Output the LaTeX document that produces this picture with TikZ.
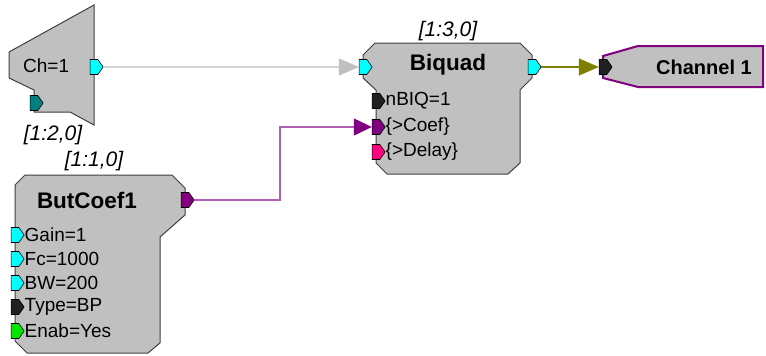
\documentclass[tikz,border=0pt]{standalone}
\usepackage{fontspec}
\setmainfont{Liberation Sans}
\usepackage{tikz}
\usetikzlibrary{positioning, shapes.symbols, arrows.meta}

\definecolor{blockgray}{RGB}{192,192,192}
\definecolor{edgegray}{RGB}{64,64,64}
\definecolor{portcyan}{RGB}{0,255,255}
\definecolor{portteal}{RGB}{0,128,128}
\definecolor{portpurple}{RGB}{128,0,128}
\definecolor{portpink}{RGB}{255,0,128}
\definecolor{portblack}{RGB}{32,32,32}
\definecolor{portgreen}{RGB}{0,230,0}
\definecolor{wireolive}{RGB}{128,128,0}
\definecolor{wiregray}{RGB}{212,212,212}
\definecolor{wirepurple}{RGB}{176,96,176}

\begin{document}
\begin{tikzpicture}[x=1pt, y=-1pt,
  block/.style={fill=blockgray, draw=edgegray, line width=1pt},
  port/.style={signal, signal to=east, signal pointer angle=110, draw=black, line width=0.6pt,
    minimum width=13pt, minimum height=15pt, inner sep=0pt},
  ptext/.style={inner sep=0pt, anchor=west, font=\fontsize{19}{19}\selectfont},
  title/.style={inner sep=0pt, font=\fontsize{22.5}{22.5}\selectfont\bfseries},
  tag/.style={inner sep=0pt, font=\fontsize{21}{21}\selectfont\itshape},
]
\useasboundingbox (0,0) rectangle (766,356);

% blocks
\draw[block] (94,5) -- (94,125) -- (70,112) -- (34,112) -- (34,90) -- (9,78) -- (9,52) -- cycle;
\draw[block] (375,43) -- (520,43) -- (532,55) -- (532,78) -- (520,90) -- (520,163) -- (508,174)
  -- (387,174) -- (376,163) -- (376,90) -- (363,78) -- (363,55) -- cycle;
\draw[block] (25,175) -- (172,175) -- (185,188) -- (185,215) -- (160,237) -- (160,343) -- (148,353)
  -- (27,353) -- (15,341) -- (15,185) -- cycle;
\draw[fill=blockgray, draw=portpurple, line width=2pt] (603,56) -- (638,46) -- (763,46) -- (763,87)
  -- (638,87) -- (603,78) -- cycle;

% titles and tags
\node[ptext] (chtext) at (23,66) {Ch=1};
\node[title] (bqtitle) at (448,65) {Biquad};
\node[title] (bctitle) at (87,200) {ButCoef1};
\node[inner sep=0pt, font=\fontsize{20}{20}\selectfont\bfseries] (outtitle) at (704,67) {Channel 1};
\node[tag] (chtag) at (53,135) {[1:2,0]};
\node[tag] (bctag) at (94,161) {[1:1,0]};
\node[tag] (bqtag) at (448,31) {[1:3,0]};

% ports
\node[port, fill=portcyan] (chout) at (94,67) {};
\node[port, fill=portteal] (chaux) at (34,103) {};
\node[port, fill=portcyan] (bqin) at (363,67) {};
\node[port, fill=portcyan] (bqout) at (532,67) {};
\node[port, fill=portblack] (bqn) at (376,101) {};
\node[port, fill=portpurple] (bqcoef) at (376,127) {};
\node[port, fill=portpink] (bqdelay) at (376,152) {};
\node[port, fill=portblack] (outin) at (603,67) {};
\node[port, fill=portpurple] (bcout) at (185,200) {};
\node[port, fill=portcyan] (bcgain) at (15,235) {};
\node[port, fill=portcyan] (bcfc) at (15,259) {};
\node[port, fill=portcyan] (bcbw) at (15,283) {};
\node[port, fill=portblack] (bctype) at (15,307) {};
\node[port, fill=portgreen] (bcenab) at (15,331) {};

\node[ptext, right=0pt of bqn] (bqntext) {nBIQ=1};
\node[ptext, right=0pt of bqcoef] (bqcoeftext) {\{>Coef\}};
\node[ptext, right=0pt of bqdelay] (bqdelaytext) {\{>Delay\}};
\node[ptext, right=0pt of bcgain] (bcgaintext) {Gain=1};
\node[ptext, right=0pt of bcfc] (bcfctext) {Fc=1000};
\node[ptext, right=0pt of bcbw] (bcbwtext) {BW=200};
\node[ptext, right=0pt of bctype] (bctypetext) {Type=BP};
\node[ptext, right=0pt of bcenab] (bcenabtext) {Enab=Yes};

% wires
\draw[wiregray, line width=1.2pt, -{Triangle[length=20pt, width=17pt, color=blockgray]}] (chout.east) -- (bqin.west);
\draw[wireolive, line width=1.2pt, -{Triangle[length=20pt, width=17pt]}] (bqout.east) -- (outin.west);
\coordinate (bend) at (280,127);
\draw[wirepurple, line width=1.2pt, -{Triangle[length=18pt, width=17pt, color=portpurple]}] (bcout.east) -| (bend) -- (bqcoef.west);
\end{tikzpicture}
\end{document}
